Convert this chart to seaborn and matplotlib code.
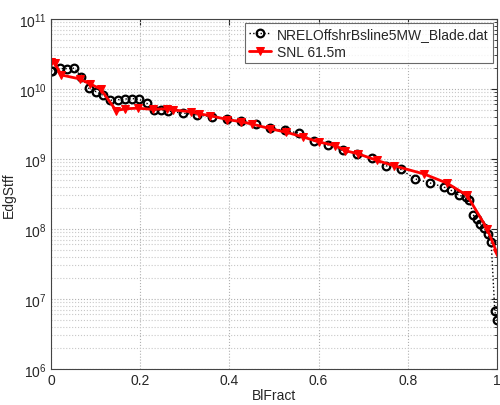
import numpy as np
import pandas as pd
import matplotlib
matplotlib.use("Agg")
import matplotlib.pyplot as plt
import matplotlib.ticker as mticker
import seaborn as sns

# NREL 5MW blade (circles)
nrel_fract = [0.0, 0.00325, 0.01951, 0.03577, 0.05203, 0.06829, 0.08455, 0.10081,
              0.11707, 0.13335, 0.14959, 0.16585, 0.18211, 0.19837, 0.21465, 0.23089,
              0.24715, 0.26341, 0.29595, 0.32846, 0.36098, 0.39350, 0.42602, 0.45855,
              0.49106, 0.52358, 0.55610, 0.58862, 0.62115, 0.65366, 0.68618, 0.71870,
              0.75122, 0.78376, 0.81626, 0.84878, 0.88130, 0.89756, 0.91382, 0.93008,
              0.93821, 0.94636, 0.95447, 0.96260, 0.97073, 0.97886, 0.98699, 0.99512, 1.0]
nrel_edg = [18113.6e6, 18113.6e6, 19558.6e6, 19497.8e6, 19788.8e6, 14858.5e6, 10220.6e6,
            9144.7e6, 8063.16e6, 6884.44e6, 7009.18e6, 7167.68e6, 7271.66e6, 7081.7e6,
            6244.53e6, 5048.96e6, 4948.49e6, 4808.02e6, 4501.4e6, 4244.07e6, 3995.28e6,
            3750.76e6, 3447.14e6, 3139.07e6, 2734.24e6, 2554.87e6, 2334.03e6, 1828.73e6,
            1584.68e6, 1323.36e6, 1183.68e6, 1020.16e6, 797.81e6, 709.61e6, 518.19e6,
            454.87e6, 395.12e6, 353.72e6, 304.73e6, 281.42e6, 261.71e6, 158.81e6,
            137.88e6, 118.79e6, 101.63e6, 85.07e6, 64.26e6, 6.61e6, 5.01e6]

# SNL 61.5m (triangles)
snl_fract = [0.0, 0.008, 0.023, 0.064, 0.087, 0.111, 0.146, 0.167, 0.194, 0.228,
             0.259, 0.274, 0.315, 0.332, 0.357, 0.395, 0.426, 0.45, 0.491, 0.528,
             0.566, 0.6, 0.637, 0.66, 0.689, 0.731, 0.768, 0.836, 0.888, 0.933,
             0.978, 1.0]
snl_edg = [2.4e10, 2.35e10, 1.58e10, 1.39e10, 1.18e10, 1.0e10, 4.9e9, 5.2e9, 5.3e9, 5.1e9,
           5.2e9, 5.0e9, 4.7e9, 4.4e9, 4.15e9, 3.65e9, 3.4e9, 3.15e9, 2.7e9, 2.4e9,
           2.05e9, 1.75e9, 1.55e9, 1.31e9, 1.18e9, 9.5e8, 8.0e8, 6.1e8, 4.5e8, 3.0e8,
           1.0e8, 4.5e7]

nrel = pd.DataFrame({'BlFract': nrel_fract, 'EdgStff': nrel_edg})
snl = pd.DataFrame({'BlFract': snl_fract, 'EdgStff': snl_edg})

sns.set_style("white")
plt.rcParams['font.family'] = ['Liberation Sans', 'DejaVu Sans']
plt.rcParams['mathtext.fontset'] = 'custom'
plt.rcParams['mathtext.rm'] = 'Liberation Sans'

fig = plt.figure(figsize=(5, 4.06), dpi=100)
ax = fig.add_axes([0.102, 0.089, 0.892, 0.862])

sns.lineplot(data=nrel, x='BlFract', y='EdgStff', sort=False, ax=ax, color='black',
             linestyle=':', linewidth=1, marker='o', markersize=5.5, markerfacecolor='none',
             markeredgecolor='black', markeredgewidth=1.6, label='NRELOffshrBsline5MW_Blade.dat')
sns.lineplot(data=snl, x='BlFract', y='EdgStff', sort=False, ax=ax, color='red',
             linewidth=2, marker='v', markersize=6, markeredgecolor='red',
             label='SNL 61.5m')

ax.set_yscale('log')
ax.set_xlim(0, 1)
ax.set_ylim(1e6, 1e11)
ax.xaxis.set_major_locator(mticker.MultipleLocator(0.2))
ax.xaxis.set_major_formatter(mticker.FuncFormatter(lambda v, p: '0' if v == 0 else ('1' if v == 1 else f'{v:g}')))
ax.yaxis.set_major_locator(mticker.LogLocator(base=10, numticks=10))
ax.yaxis.set_minor_locator(mticker.LogLocator(base=10, subs=np.arange(2, 10), numticks=20))
ax.yaxis.set_minor_formatter(mticker.NullFormatter())

ax.grid(True, which='major', linestyle=':', color='#b0b0b0', linewidth=0.8)
ax.grid(True, which='minor', axis='y', linestyle=':', color='#c8c8c8', linewidth=0.8)
ax.tick_params(which='both', direction='in', top=True, right=True, labelsize=10, pad=3)
ax.tick_params(which='major', length=4)
ax.tick_params(which='minor', length=2)
for s in ax.spines.values():
    s.set_color('#444444')
    s.set_linewidth(0.8)

ax.set_xlabel('BlFract', fontsize=10, labelpad=1)
ax.set_ylabel('EdgStff', fontsize=10, labelpad=2)

leg = ax.legend(loc='upper right', fontsize=10, frameon=True, fancybox=False,
                edgecolor='#444444', borderpad=0.3, handlelength=1.6,
                handletextpad=0.4, borderaxespad=0.3, labelspacing=0.25)
leg.get_frame().set_linewidth(0.8)

plt.savefig("out.png", dpi=100)
